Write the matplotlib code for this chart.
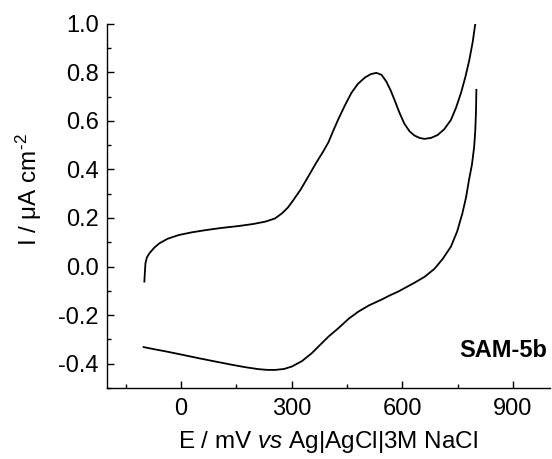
import matplotlib
matplotlib.use("Agg")
import matplotlib.pyplot as plt
from matplotlib.ticker import MultipleLocator

plt.rcParams['font.family'] = ['Liberation Sans', 'DejaVu Sans']
plt.rcParams['mathtext.fontset'] = 'custom'
plt.rcParams['mathtext.rm'] = 'Liberation Sans'
plt.rcParams['mathtext.it'] = 'Liberation Sans:italic'

# forward (anodic) scan
e_fwd = [-99, -98, -96, -92, -85, -72, -58, -35, -5, 30, 67, 110, 157, 195, 229, 255, 274,
         290, 305, 325, 345, 365, 385, 400, 412, 427, 445, 462, 480, 499, 515, 530, 544,
         557, 568, 579, 593, 606, 620, 633, 647, 660, 678, 696, 714, 732, 746, 759, 771,
         782, 791, 798]
i_fwd = [-0.062, -0.035, 0.014, 0.038, 0.055, 0.078, 0.096, 0.115, 0.130, 0.141, 0.150, 0.159,
         0.167, 0.175, 0.185, 0.198, 0.219, 0.243, 0.274, 0.318, 0.370, 0.423, 0.472, 0.512,
         0.556, 0.608, 0.665, 0.715, 0.753, 0.779, 0.793, 0.798, 0.790, 0.762, 0.728, 0.687,
         0.632, 0.588, 0.557, 0.540, 0.530, 0.526, 0.530, 0.542, 0.566, 0.604, 0.655, 0.714,
         0.780, 0.852, 0.925, 1.0]

# reverse (cathodic) scan
e_rev = [801, 800, 798, 795, 789, 781, 773, 763, 749, 732, 710, 687, 660, 633, 610, 588, 565,
         543, 510, 481, 455, 427, 400, 378, 355, 328, 301, 280, 256, 235, 211, 175, 139, 95,
         49, 5, -40, -75, -101]
i_rev = [0.728, 0.64, 0.56, 0.494, 0.42, 0.357, 0.285, 0.219, 0.145, 0.082, 0.032, -0.010,
         -0.043, -0.067, -0.086, -0.104, -0.120, -0.137, -0.160, -0.186, -0.215, -0.254,
         -0.289, -0.322, -0.357, -0.390, -0.412, -0.422, -0.426, -0.426, -0.423, -0.415,
         -0.405, -0.392, -0.378, -0.364, -0.350, -0.340, -0.332]

fig = plt.figure(figsize=(5.52, 4.59), dpi=100)
ax = fig.add_axes([0.194, 0.155, 0.802, 0.793])

ax.plot(e_fwd, i_fwd, color='black', lw=1.3)
ax.plot(e_rev, i_rev, color='black', lw=1.3)

ax.set_xlim(-200, 1000)
ax.set_ylim(-0.5, 1.0)
ax.xaxis.set_minor_locator(MultipleLocator(150))
ax.yaxis.set_minor_locator(MultipleLocator(0.1))
ax.set_yticks([-0.4, -0.2, 0.0, 0.2, 0.4, 0.6, 0.8, 1.0])
ax.set_yticklabels(['-0.4', '-0.2', '0.0', '0.2', '0.4', '0.6', '0.8', '1.0'])
ax.set_xticks([0, 300, 600, 900])

ax.spines['top'].set_visible(False)
ax.spines['right'].set_visible(False)
for s in ('left', 'bottom'):
    ax.spines[s].set_linewidth(1.0)

ax.tick_params(which='both', direction='in', labelsize=17, width=1.0)
ax.tick_params(which='major', length=5)
ax.tick_params(which='minor', length=3)
ax.tick_params(axis='x', pad=7)
ax.tick_params(axis='y', pad=6)

ax.set_xlabel(r'E / mV $\mathit{vs}$ Ag|AgCl|3M NaCl', fontsize=17.5, labelpad=7)
ax.set_ylabel(r'I / $\mathregular{\mu}$A cm$^{\text{-2}}$', fontsize=17.5)
ax.yaxis.set_label_coords(-0.143, 0.545)

ax.text(0.995, 0.085, 'SAM-5b', transform=ax.transAxes, ha='right', va='baseline',
        fontsize=17, fontweight='bold')

fig.savefig('out.png', dpi=100)
